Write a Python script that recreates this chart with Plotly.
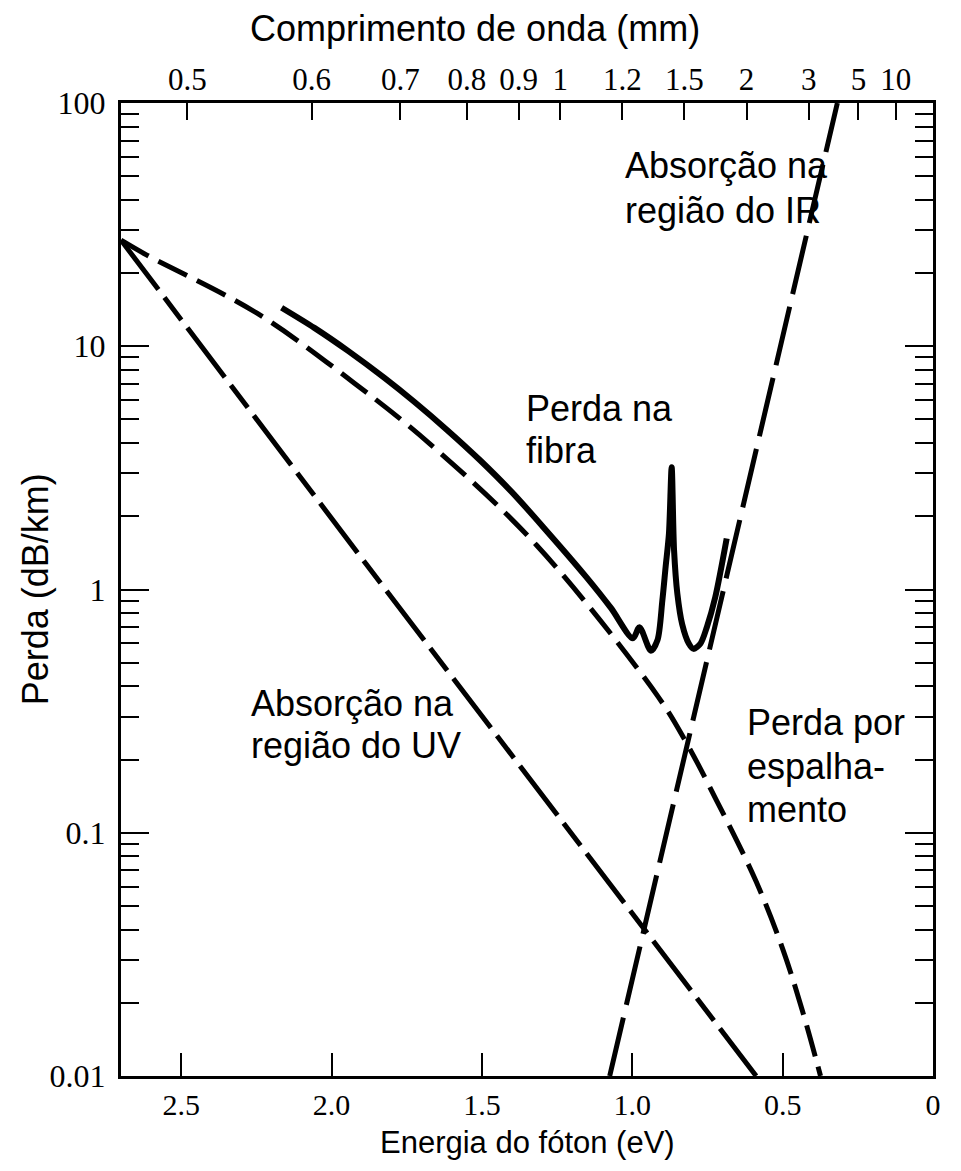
import plotly.graph_objects as go

# ---------------- data ----------------
# photon energy (eV) and loss (dB/km)
fiber_E = [2.166, 2.057, 1.945, 1.824, 1.724, 1.615, 1.506, 1.401, 1.295, 1.154, 1.071,
           0.998, 0.976, 0.938, 0.916, 0.900, 0.889, 0.878, 0.869, 0.861, 0.850, 0.834,
           0.812, 0.796, 0.773, 0.752, 0.724, 0.686]
fiber_loss = [14.4, 11.9, 9.57, 7.41, 5.90, 4.52, 3.40, 2.52, 1.80, 1.13, 0.84,
              0.63, 0.70, 0.56, 0.62, 0.90, 1.24, 1.70, 3.18, 1.45, 0.96, 0.72,
              0.60, 0.57, 0.60, 0.70, 0.93, 1.62]

scat_E = [2.70, 2.614, 2.249, 1.924, 1.674, 1.318, 0.913, 0.818, 0.720, 0.588, 0.499, 0.434, 0.374]
scat_loss = [27.3, 23.7, 13.7, 7.05, 3.98, 1.52, 0.361, 0.232, 0.136, 0.063, 0.0331, 0.0185, 0.010]

uv_E = [2.70, 1.914, 0.588]
uv_loss = [27.3, 1.42, 0.010]

ir_E = [1.075, 0.818, 0.318]
ir_loss = [0.010, 0.232, 100.0]

# axes ticks
energy_ticks = [2.5, 2.0, 1.5, 1.0, 0.5, 0.0]
energy_labels = ["2.5", "2.0", "1.5", "1.0", "0.5", "0"]
wavelengths = [0.5, 0.6, 0.7, 0.8, 0.9, 1, 1.2, 1.5, 2, 3, 5, 10]
wavelength_labels = ["0.5", "0.6", "0.7", "0.8", "0.9", "1", "1.2", "1.5", "2", "3", "5", "10"]
loss_ticks = [0.01, 0.1, 1, 10, 100]
loss_labels = ["0.01", "0.1", "1", "10", "100"]

labels = [
    ("Absorção na", 1.032, 1.745), ("região do IR", 1.032, 1.560),
    ("Perda na", 1.361, 0.746), ("fibra", 1.361, 0.573),
    ("Absorção na", 2.275, -0.467), ("região do UV", 2.275, -0.643),
    ("Perda por", 0.626, -0.545), ("espalha-", 0.626, -0.726), ("mento", 0.626, -0.906),
]

# ---------------- figure ----------------
SERIF = "Liberation Serif"
SANS = "Liberation Sans"

fig = go.Figure()
fig.add_trace(go.Scatter(x=uv_E, y=uv_loss, mode="lines",
                         line=dict(color="black", width=5, dash="62px,10px,28px,10px")))
fig.add_trace(go.Scatter(x=scat_E, y=scat_loss, mode="lines", line_shape="spline",
                         line=dict(color="black", width=5, dash="32px,11px", smoothing=1.0)))
fig.add_trace(go.Scatter(x=ir_E, y=ir_loss, mode="lines",
                         line=dict(color="black", width=5, dash="60px,13px")))
fig.add_trace(go.Scatter(x=fiber_E, y=fiber_loss, mode="lines", line_shape="spline",
                         line=dict(color="black", width=6, smoothing=0.8)))
# invisible trace to activate top axis
fig.add_trace(go.Scatter(x=[2.7, 0], y=[1, 1], xaxis="x2", mode="lines",
                         line=dict(width=0), hoverinfo="skip", showlegend=False))

minor_vals = [m * 10 ** d for d in range(-2, 2) for m in range(2, 10)]

# the page body keeps an 8 px margin, so the figure is a little smaller than the window
fig.update_layout(
    width=945, height=1155,
    margin=dict(l=113, r=13, t=95, b=87),
    paper_bgcolor="white", plot_bgcolor="white",
    showlegend=False,
    xaxis=dict(range=[2.7, 0], tickvals=energy_ticks, ticktext=energy_labels,
               ticks="inside", ticklen=23, tickwidth=2, tickcolor="black",
               showline=True, linewidth=3, linecolor="black", mirror=True,
               showgrid=False, zeroline=False, ticklabelstandoff=0,
               tickfont=dict(family=SERIF, size=30, color="black")),
    xaxis2=dict(range=[2.7, 0], overlaying="x", side="top",
                tickvals=[1.2398 / w for w in wavelengths], ticktext=wavelength_labels,
                ticks="inside", ticklen=17, tickwidth=2, tickcolor="black",
                showline=False, showgrid=False, zeroline=False, ticklabelstandoff=6,
                tickfont=dict(family=SERIF, size=31, color="black")),
    yaxis=dict(type="log", range=[-2, 2], tickvals=loss_ticks, ticktext=loss_labels,
               ticks="inside", ticklen=28, tickwidth=2, tickcolor="black",
               minor=dict(tickvals=minor_vals, ticks="inside", ticklen=18,
                          tickwidth=2, tickcolor="black", showgrid=False),
               showline=True, linewidth=3, linecolor="black", mirror="ticks",
               showgrid=False, zeroline=False, ticklabelstandoff=6,
               tickfont=dict(family=SERIF, size=32, color="black")),
)

for txt, ex, ly in labels:
    fig.add_annotation(x=ex, y=ly, xref="x", yref="y", text=txt, showarrow=False,
                       xanchor="left", yanchor="middle",
                       font=dict(family=SANS, size=36, color="black"))

fig.add_annotation(x=0.436, y=1.077, xref="paper", yref="paper", text="Comprimento de onda (mm)",
                   showarrow=False, xanchor="center", yanchor="middle",
                   font=dict(family=SANS, size=36, color="black"))
fig.add_annotation(x=0.5, y=-0.068, xref="paper", yref="paper", text="Energia do fóton (eV)",
                   showarrow=False, xanchor="center", yanchor="middle",
                   font=dict(family=SANS, size=31, color="black"))
fig.add_annotation(x=-0.105, y=0.5, xref="paper", yref="paper", text="Perda (dB/km)",
                   showarrow=False, xanchor="center", yanchor="middle", textangle=-90,
                   font=dict(family=SANS, size=36, color="black"))

fig.write_html("out.html")
